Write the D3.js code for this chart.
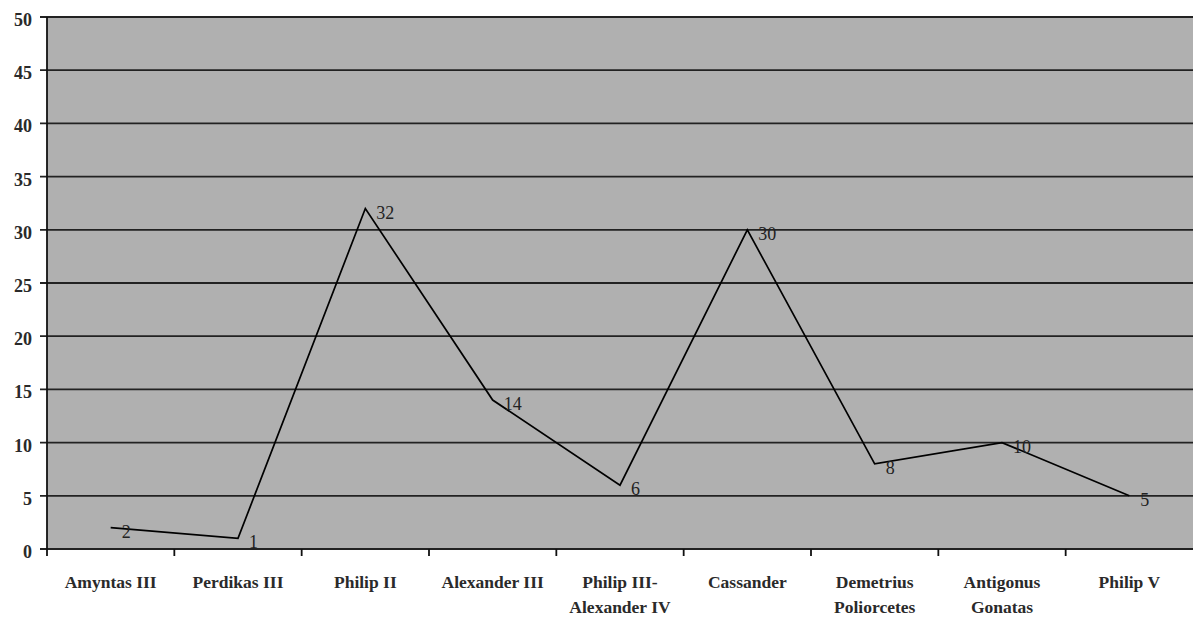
<!DOCTYPE html>
<html><head><meta charset="utf-8">
<script src="https://cdn.jsdelivr.net/npm/d3@7"></script>
<style>body{margin:0;background:#fff}svg{display:block}</style>
</head><body><svg id="c" width="1197" height="619"></svg>
<script>
const categories = [["Amyntas III"],["Perdikas III"],["Philip II"],["Alexander III"],["Philip III-","Alexander IV"],["Cassander"],["Demetrius","Poliorcetes"],["Antigonus","Gonatas"],["Philip V"]];
const values = [2,1,32,14,6,30,8,10,5];
const yTicks = [0,5,10,15,20,25,30,35,40,45,50];

const svg = d3.select("#c");
const m = {l:47, r:1193, t:17, b:549};
const x = d3.scaleBand().domain(d3.range(categories.length)).range([m.l, m.r]);
const y = d3.scaleLinear().domain([0,50]).range([m.b, m.t]);
const font = "'Liberation Serif','DejaVu Serif',serif";

svg.append("rect").attr("x",m.l).attr("y",m.t).attr("width",m.r-m.l).attr("height",m.b-m.t).attr("fill","#b0b0b0");

// gridlines
svg.append("g").selectAll("line").data(yTicks).join("line")
  .attr("x1",m.l-7).attr("x2",m.r).attr("y1",d=>y(d)).attr("y2",d=>y(d))
  .attr("stroke","#222").attr("stroke-width",1.8);
// left axis line
svg.append("line").attr("x1",m.l).attr("x2",m.l).attr("y1",m.t).attr("y2",m.b).attr("stroke","#111").attr("stroke-width",1.8);
// y labels
svg.append("g").selectAll("text").data(yTicks).join("text")
  .attr("x",m.l-15).attr("y",d=>y(d)+9).attr("text-anchor","end")
  .attr("font-family",font).attr("font-size",18).attr("font-weight","bold").attr("fill","#2a2a2a").text(d=>d);
// x ticks
svg.append("g").selectAll("line").data(d3.range(categories.length)).join("line")
  .attr("x1",d=>x(d)).attr("x2",d=>x(d)).attr("y1",m.b).attr("y2",m.b+7).attr("stroke","#111").attr("stroke-width",1.8);
// x labels
const xl = svg.append("g").selectAll("text").data(categories).join("text")
  .attr("text-anchor","middle").attr("font-family",font).attr("font-size",17.5).attr("font-weight","bold").attr("fill","#2a2a2a")
  .attr("transform",(d,i)=>`translate(${x(i)+x.bandwidth()/2},${m.b+39})`);
xl.selectAll("tspan").data(d=>d).join("tspan").attr("x",0).attr("dy",(d,i)=>i?25:0).text(d=>d);

// line
const line = d3.line().x((d,i)=>x(i)+x.bandwidth()/2).y(d=>y(d));
svg.append("path").datum(values).attr("d",line).attr("fill","none").attr("stroke","#000").attr("stroke-width",1.7);
// data labels
svg.append("g").selectAll("text").data(values).join("text")
  .attr("x",(d,i)=>x(i)+x.bandwidth()/2+11).attr("y",d=>y(d)+10)
  .attr("font-family",font).attr("font-size",18).attr("fill","#222").text(d=>d);
</script></body></html>
